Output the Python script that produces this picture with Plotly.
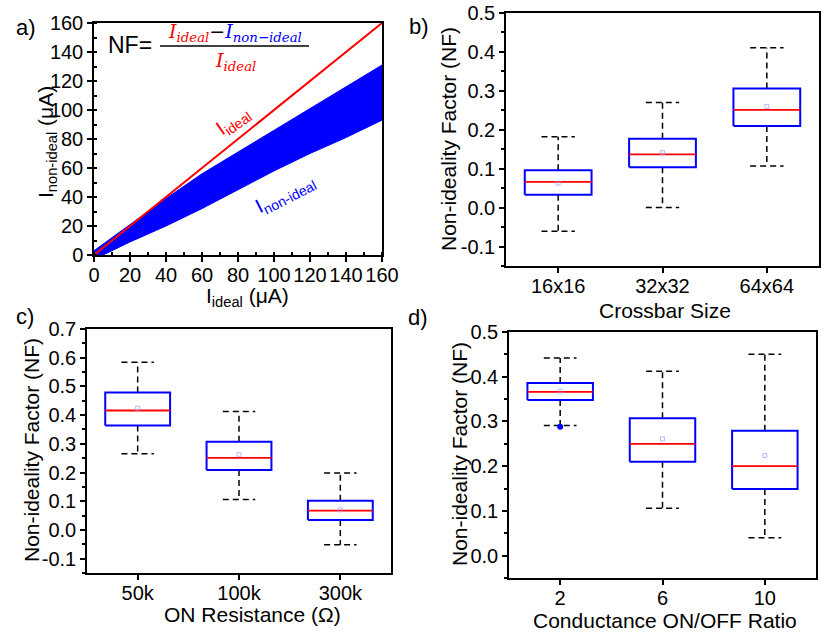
import plotly.graph_objects as go

# ---------------- Panel a data ----------------
a_ideal_x = [0, 160]
a_ideal_y = [0, 160]
a_upper_x = [0, 10, 20, 30, 40, 60, 80, 100, 120, 140, 160]
a_upper_y = [3, 12, 21, 30, 39, 56, 71, 86, 101, 116, 131]
a_lower_x = [0, 5, 20, 40, 60, 80, 100, 120, 140, 160]
a_lower_y = [-3, 0, 9, 20, 32, 45, 58, 70, 81, 93]
a_ticks = [0, 20, 40, 60, 80, 100, 120, 140, 160]

# ---------------- Panel b data ----------------
b_cats = ["16x16", "32x32", "64x64"]
b_q1 = [0.033, 0.104, 0.210]
b_med = [0.066, 0.137, 0.251]
b_q3 = [0.096, 0.177, 0.306]
b_lo = [-0.061, 0.000, 0.107]
b_hi = [0.182, 0.270, 0.411]
b_mean = [0.063, 0.141, 0.260]
b_yticks = [-0.1, 0.0, 0.1, 0.2, 0.3, 0.4, 0.5]
b_yticktext = ["-0.1", "0.0", "0.1", "0.2", "0.3", "0.4", "0.5"]

# ---------------- Panel c data ----------------
c_cats = ["50k", "100k", "300k"]
c_q1 = [0.364, 0.209, 0.035]
c_med = [0.416, 0.251, 0.067]
c_q3 = [0.479, 0.307, 0.102]
c_lo = [0.265, 0.106, -0.052]
c_hi = [0.584, 0.413, 0.198]
c_mean = [0.424, 0.262, 0.070]
c_yticks = [-0.1, 0.0, 0.1, 0.2, 0.3, 0.4, 0.5, 0.6, 0.7]
c_yticktext = ["-0.1", "0.0", "0.1", "0.2", "0.3", "0.4", "0.5", "0.6", "0.7"]

# ---------------- Panel d data ----------------
d_cats = ["2", "6", "10"]
d_q1 = [0.348, 0.210, 0.149]
d_med = [0.366, 0.250, 0.200]
d_q3 = [0.386, 0.307, 0.279]
d_lo = [0.291, 0.106, 0.040]
d_hi = [0.442, 0.412, 0.450]
d_mean = [0.368, 0.261, 0.224]
d_out_idx = [0]
d_out_y = [0.288]
d_yticks = [0.0, 0.1, 0.2, 0.3, 0.4, 0.5]
d_yticktext = ["0.0", "0.1", "0.2", "0.3", "0.4", "0.5"]

FONT = "Liberation Sans, Arial, sans-serif"
TICKF = dict(family=FONT, size=20, color="black")
BLUE = "#0000ff"
RED = "#ff0000"
BOX_HALF = 0.32
CAP_HALF = 0.16

W, H = 830, 639

fig = go.Figure()

# ---- panel a traces ----
band_x = a_upper_x + a_lower_x[::-1]
band_y = a_upper_y + a_lower_y[::-1]
fig.add_trace(go.Scatter(x=band_x, y=band_y, fill="toself", fillcolor=BLUE,
                         line=dict(color=BLUE, width=1), mode="lines",
                         xaxis="x", yaxis="y", showlegend=False, hoverinfo="skip"))
fig.add_trace(go.Scatter(x=a_ideal_x, y=a_ideal_y, mode="lines",
                         line=dict(color=RED, width=2), xaxis="x", yaxis="y",
                         showlegend=False))


def add_boxes(n, q1, med, q3, lo, hi, mean):
    xa, ya = f"x{n}", f"y{n}"
    wx, wy, bx, by, mx, my = [], [], [], [], [], []
    for i in range(len(q1)):
        wx += [i, i, None, i - CAP_HALF, i + CAP_HALF, None,
               i, i, None, i - CAP_HALF, i + CAP_HALF, None]
        wy += [q3[i], hi[i], None, hi[i], hi[i], None,
               q1[i], lo[i], None, lo[i], lo[i], None]
        bx += [i - BOX_HALF, i + BOX_HALF, i + BOX_HALF, i - BOX_HALF, i - BOX_HALF, None]
        by += [q1[i], q1[i], q3[i], q3[i], q1[i], None]
        mx += [i - BOX_HALF, i + BOX_HALF, None]
        my += [med[i], med[i], None]
    fig.add_trace(go.Scatter(x=wx, y=wy, mode="lines", xaxis=xa, yaxis=ya,
                             line=dict(color="black", width=1.5, dash="6px,4px"),
                             showlegend=False, hoverinfo="skip"))
    fig.add_trace(go.Scatter(x=bx, y=by, mode="lines", xaxis=xa, yaxis=ya,
                             line=dict(color=BLUE, width=2),
                             showlegend=False, hoverinfo="skip"))
    fig.add_trace(go.Scatter(x=mx, y=my, mode="lines", xaxis=xa, yaxis=ya,
                             line=dict(color=RED, width=1.8),
                             showlegend=False, hoverinfo="skip"))
    fig.add_trace(go.Scatter(x=list(range(len(mean))), y=mean, mode="markers",
                             xaxis=xa, yaxis=ya,
                             marker=dict(symbol="square-open", size=4,
                                         color="#9a9aff", line=dict(width=0.7)),
                             showlegend=False))


add_boxes(2, b_q1, b_med, b_q3, b_lo, b_hi, b_mean)
add_boxes(3, c_q1, c_med, c_q3, c_lo, c_hi, c_mean)
add_boxes(4, d_q1, d_med, d_q3, d_lo, d_hi, d_mean)
fig.add_trace(go.Scatter(x=d_out_idx, y=d_out_y, mode="markers", xaxis="x4", yaxis="y4",
                         marker=dict(symbol="circle", size=6, color=BLUE),
                         showlegend=False))

# ---- axes ----
common = dict(showline=True, linecolor="black", linewidth=1.5, mirror=True,
              ticks="outside", ticklen=5, tickwidth=1.5, tickcolor="black",
              showgrid=False, zeroline=False, tickfont=TICKF, fixedrange=True,
              automargin=False, ticklabeloverflow="allow")
xcommon = dict(common, ticklabelstandoff=-4)
ycommon = dict(common)


def px_dom(x0, x1):
    return [x0 / W, x1 / W]


def py_dom(y_bottom, y_top):
    return [1 - y_bottom / H, 1 - y_top / H]


layout = dict(
    width=W, height=H, margin=dict(l=0, r=0, t=0, b=0, autoexpand=False),
    paper_bgcolor="white", plot_bgcolor="white", showlegend=False,
    xaxis=dict(domain=px_dom(94, 382), anchor="y", range=[0, 160], tickvals=a_ticks,
               minor=dict(dtick=10, ticks="inside", ticklen=3, tickcolor="black"), **xcommon),
    yaxis=dict(domain=py_dom(255, 23), anchor="x", range=[0, 160], tickvals=a_ticks,
               minor=dict(dtick=10, ticks="inside", ticklen=3, tickcolor="black"), **ycommon),
    xaxis2=dict(domain=px_dom(506, 819), anchor="y2", range=[-0.5, 2.5],
                tickvals=[0, 1, 2], ticktext=b_cats, **xcommon),
    yaxis2=dict(domain=py_dom(266, 13), anchor="x2", range=[-0.15, 0.5],
                tickvals=b_yticks, ticktext=b_yticktext,
                minor=dict(dtick=0.05, ticks="outside", ticklen=3, tickcolor="black"), **ycommon),
    xaxis3=dict(domain=px_dom(87, 391), anchor="y3", range=[-0.5, 2.5],
                tickvals=[0, 1, 2], ticktext=c_cats, **xcommon),
    yaxis3=dict(domain=py_dom(573, 329), anchor="x3", range=[-0.15, 0.7],
                tickvals=c_yticks, ticktext=c_yticktext,
                minor=dict(dtick=0.05, ticks="outside", ticklen=3, tickcolor="black"), **ycommon),
    xaxis4=dict(domain=px_dom(509, 816), anchor="y4", range=[-0.5, 2.5],
                tickvals=[0, 1, 2], ticktext=d_cats, **xcommon),
    yaxis4=dict(domain=py_dom(578, 332), anchor="x4", range=[-0.05, 0.5],
                tickvals=d_yticks, ticktext=d_yticktext,
                minor=dict(dtick=0.05, ticks="outside", ticklen=3, tickcolor="black"), **ycommon),
)
fig.update_layout(**layout)


def P(xp, yp):
    return xp / W, 1 - yp / H


def note(text, xp, yp, size, color="black", angle=0, family=FONT):
    x, y = P(xp, yp)
    return dict(text=text, x=x, y=y, xref="paper", yref="paper", showarrow=False,
                textangle=angle, font=dict(family=family, size=size, color=color),
                xanchor="center", yanchor="middle")


annots = []
# panel labels
for lab, (xp, yp) in [("a)", (26, 28)), ("b)", (419, 27)), ("c)", (25, 316)), ("d)", (418, 317))]:
    annots.append(note(lab, xp, yp, 22))

# axis titles
annots.append(note("I<sub>ideal</sub> (μA)", 247, 297, 21))
annots.append(note("I<sub>non-ideal</sub> (μA)", 47, 142, 21, angle=-90))
annots.append(note("Crossbar Size", 665, 310, 21))
annots.append(note("Non-ideality Factor (NF)", 448, 139, 21, angle=-90))
annots.append(note("ON Resistance (Ω)", 252, 614, 21))
annots.append(note("Non-ideality Factor (NF)", 32, 450, 21, angle=-90))
annots.append(note("Conductance ON/OFF Ratio", 665, 620, 21))
annots.append(note("Non-ideality Factor (NF)", 459, 454, 21, angle=-90))

# formula and curve labels
SERIF = "DejaVu Serif, Liberation Serif, serif"
annots.append(note("NF=", 130, 45, 23))
annots.append(note("<span style='color:#ff0000'><i>I</i><sub><i>ideal</i></sub></span>"
                   "<span style='color:black'>−</span>"
                   "<span style='color:#0000ff'><i>I</i><sub><i>non−ideal</i></sub></span>",
                   235, 33, 19, family=SERIF))
annots.append(note("<i>I</i><sub><i>ideal</i></sub>", 235, 62, 19, color=RED, family=SERIF))
annots.append(note("I<sub>ideal</sub>", 233, 122, 20, color=RED, angle=-35))
annots.append(note("I<sub>non-ideal</sub>", 285, 195, 20, color=BLUE, angle=-27))
fig.update_layout(annotations=annots)

x0, yb = P(160, 46)
x1, _ = P(309, 46)
fig.add_shape(type="line", xref="paper", yref="paper", x0=x0, x1=x1, y0=yb, y1=yb,
              line=dict(color="black", width=1.3))

fig.write_html("out.html", config={"displayModeBar": False},
               post_script="document.body.style.margin='0';document.body.style.overflow='hidden';")
